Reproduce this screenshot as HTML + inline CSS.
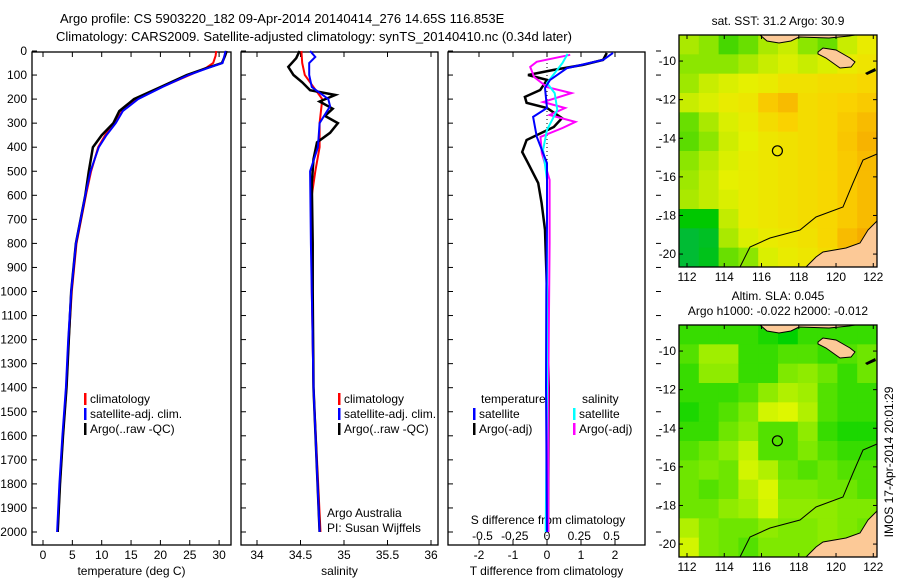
<!DOCTYPE html>
<html><head><meta charset="utf-8"><style>
body{margin:0;background:#fff;}
svg{display:block;font-family:"Liberation Sans",sans-serif;font-size:12px;}
</style></head><body>
<svg id="fig" width="900" height="580" viewBox="0 0 900 580" xmlns="http://www.w3.org/2000/svg">
<text x="60" y="23" font-size="13">Argo profile: CS 5903220_182 09-Apr-2014 20140414_276 14.65S 116.853E</text>
<text x="56" y="41" font-size="13">Climatology: CARS2009. Satellite-adjusted climatology: synTS_20140410.nc (0.34d later)</text>
<g id="g1"></g>
<g id="g2"></g>
<g id="g3"></g>
<g id="m1"></g>
<g id="m2"></g>
<text transform="translate(893,462) rotate(-90)" text-anchor="middle">IMOS 17-Apr-2014 20:01:29</text>
</svg>
<script>
// ---- profile data (depth m, value) ----
const tDepth=[0,20,50,70,100,150,200,250,300,350,400,500,600,800,1000,1200,1400,1600,1800,2000];
const tArgo=[31.3,31,30.5,28,24.5,20,15.5,13,12,10,8.5,7.8,7.2,5.6,4.8,4.4,4.0,3.4,2.9,2.5];
const tClim=[29.5,29.4,29,27.8,25,20.2,16,13.5,12.2,10.6,9.4,8.2,7.3,5.7,4.9,4.4,4.0,3.4,2.9,2.5];
const tSat=[31.1,30.9,30.6,28.2,24.8,20.3,16.2,13.6,12.4,10.8,9.5,8.1,7.2,5.6,4.8,4.3,3.9,3.3,2.8,2.4];
const sArgoDepth=[0,30,66,100,130,163,183,210,240,270,300,340,380,450,550,800,1000,1400,2000];
const sArgo=[34.49,34.45,34.36,34.42,34.52,34.61,34.9,34.72,34.87,34.78,34.93,34.84,34.69,34.65,34.63,34.64,34.64,34.65,34.72];
const sClimDepth=[0,50,100,150,200,300,400,500,600,800,1000,1400,2000];
const sClim=[34.51,34.52,34.55,34.65,34.75,34.72,34.72,34.67,34.63,34.63,34.63,34.65,34.73];
const sSatDepth=[0,25,50,100,150,200,230,300,400,500,800,1000,1400,2000];
const sSat=[34.61,34.67,34.6,34.6,34.63,34.82,34.84,34.72,34.7,34.61,34.62,34.63,34.65,34.72];
const dTSatDepth=[8,37,71,120,154,237,274,357,466,700,1000,1400,2000];
const dTSat=[1.94,1.65,0.59,0.09,-0.06,0,-0.41,-0.3,0,0,-0.02,-0.03,0];
const dTArgoDepth=[8,37,58,79,100,120,162,191,216,237,279,316,370,420,466,549,632,744,1000,1400,2000];
const dTArgo=[1.76,1.65,1.06,0.18,-0.56,0,-0.2,-0.65,-0.6,0,0.44,0.2,-0.6,-0.73,-0.56,-0.26,-0.16,-0.06,0,0.05,0.03];
const dSSatDepth=[12,50,133,175,245,328,411,536,800,1400,2000];
const dSSat=[0.16,0.12,0,0.06,0.08,0,-0.03,0,0,0,-0.01];
const dSArgoDepth=[16,45,66,108,150,175,212,237,266,295,320,357,424,536,800,1400,2000];
const dSArgo=[0.18,-0.08,-0.13,-0.1,0,0.19,-0.03,0.14,0.02,0.22,0.12,-0.05,-0.04,0.02,0.02,0.01,0.01];
const depthTicks=[0,100,200,300,400,500,600,700,800,900,1000,1100,1200,1300,1400,1500,1600,1700,1800,1900,2000];
const tTicks=[0,5,10,15,20,25,30];
const sTicks=[34,34.5,35,35.5,36];
const dTTicks=[-2,-1,0,1,2];
const dSTicks=[-0.5,-0.25,0,0.25,0.5];
const dSTickLabels=["-0.5","-0.25","0","0.25","0.5"];
// ---- map grids (rows north->south, cols west->east), normalized colour value ----
const sstGrid=[
[.50,.45,.35,.40,.50,.55,.45,.40,.55,.62],
[.45,.45,.45,.50,.55,.58,.55,.58,.62,.65],
[.48,.55,.58,.60,.62,.66,.66,.68,.68,.70],
[.55,.58,.62,.64,.74,.78,.68,.70,.72,.74],
[.40,.50,.58,.62,.68,.72,.68,.70,.74,.78],
[.38,.45,.56,.60,.64,.66,.68,.70,.75,.80],
[.45,.52,.58,.62,.64,.66,.68,.70,.74,.78],
[.48,.54,.60,.62,.64,.66,.68,.70,.74,.78],
[.50,.54,.58,.62,.64,.66,.68,.70,.74,.78],
[.25,.25,.54,.62,.64,.66,.68,.70,.74,.78],
[.15,.18,.50,.58,.62,.64,.66,.70,.78,.82],
[.15,.20,.40,.45,.58,.62,.64,.68,.74,.78]];
const slaGrid=[
[.40,.40,.40,.40,.35,.30,.40,.40,.40,.40],
[.45,.65,.65,.40,.40,.45,.45,.40,.45,.50],
[.40,.60,.60,.40,.40,.55,.60,.50,.40,.50],
[.40,.40,.40,.45,.60,.70,.65,.45,.40,.40],
[.35,.40,.45,.55,.80,.88,.70,.45,.40,.40],
[.40,.40,.50,.60,.45,.45,.60,.40,.35,.35],
[.45,.50,.60,.75,.45,.45,.55,.45,.40,.40],
[.50,.55,.50,.80,.70,.50,.45,.50,.45,.45],
[.50,.45,.50,.70,.85,.55,.55,.50,.50,.45],
[.50,.50,.60,.65,.80,.60,.60,.60,.55,.55],
[.70,.55,.50,.50,.60,.55,.55,.60,.55,.50],
[.80,.55,.50,.45,.55,.55,.55,.60,.60,.60]];
const latTicks=[-10,-12,-14,-16,-18,-20];
const lonTicks=[112,114,116,118,120,122];
const argoLon=116.853, argoLat=-14.65;

const NS="http://www.w3.org/2000/svg";
function mk(parent,tag,attrs,txt){const e=document.createElementNS(NS,tag);for(const k in attrs)e.setAttribute(k,attrs[k]);if(txt!==undefined)e.textContent=txt;parent.appendChild(e);return e;}
const yD=d=>51+d*0.2405;
const PT=55, PB=545;

function frame(g,x0,x1,xt,xs,xlab,labels){
  const r=mk(g,'rect',{x:x0,y:PT-3,width:x1-x0,height:PB-PT+3,fill:'none',stroke:'#000','stroke-width':1.3});
  
  
  xt.forEach((v,i)=>{const x=xs(v);
    mk(g,'line',{x1:x,x2:x,y1:PB,y2:PB-5,stroke:'#000'});
    mk(g,'line',{x1:x,x2:x,y1:PT-3,y2:PT+2,stroke:'#000'});
    const t=mk(g,'text',{x:x,y:559,'text-anchor':'middle'},labels[i]);
    
    
  });
  depthTicks.forEach(d=>{mk(g,'line',{x1:x0,x2:x0+5,y1:yD(d),y2:yD(d),stroke:'#000'});});
  const xl=mk(g,'text',{x:(x0+x1)/2,y:575,'text-anchor':'middle'},xlab);
  
  
}
function line(g,depths,vals,xs,color,w,name){
  const pts=depths.map((d,i)=>xs(vals[i]).toFixed(1)+','+yD(d).toFixed(1)).join(' ');
  const p=mk(g,'polyline',{points:pts,fill:'none',stroke:color,'stroke-width':w||2});
  
  
}
function legend(g,x,y,color,label){
  mk(g,'rect',{x:x,y:y-10,width:2.5,height:12,fill:color});
  const t=mk(g,'text',{x:x+6,y:y},label);
  
  
}
// panel 1
const g1=document.getElementById('g1');
const xT=v=>43+v*5.87;
frame(g1,32,231,tTicks,xT,'temperature (deg C)',tTicks.map(String));
depthTicks.forEach(d=>{const t=mk(g1,'text',{x:27,y:yD(d)+4,'text-anchor':'end'},String(d));
  
  });
line(g1,tDepth,tClim,xT,'#f00',2,'climatology-temperature-line');
line(g1,tDepth,tArgo,xT,'#000',2.5,'argo-temperature-line');
line(g1,tDepth,tSat,xT,'#00f',2,'satellite-temperature-line');
legend(g1,84,403,'#f00','climatology');legend(g1,84,418,'#00f','satellite-adj. clim.');legend(g1,84,433,'#000','Argo(..raw -QC)');
// panel 2
const g2=document.getElementById('g2');
const xS=v=>257+(v-34)*87;
frame(g2,241,438,sTicks,xS,'salinity',sTicks.map(String));
line(g2,sClimDepth,sClim,xS,'#f00',2,'climatology-salinity-line');
line(g2,sArgoDepth,sArgo,xS,'#000',2.5,'argo-salinity-line');
line(g2,sSatDepth,sSat,xS,'#00f',2,'satellite-salinity-line');
legend(g2,338,403,'#f00','climatology');legend(g2,338,418,'#00f','satellite-adj. clim.');legend(g2,338,433,'#000','Argo(..raw -QC)');
let t=mk(g2,'text',{x:327,y:517},'Argo Australia');
t=mk(g2,'text',{x:327,y:532},'PI: Susan Wijffels');
// panel 3
const g3=document.getElementById('g3');
const xDT=v=>547+v*34, xDS=v=>547+v*129;
frame(g3,448,645,dTTicks,xDT,'T difference from climatology',dTTicks.map(String));
dSTicks.forEach((v,i)=>{const tt=mk(g3,'text',{x:xDS(v),y:540,'text-anchor':'middle'},dSTickLabels[i]);
  
  });
t=mk(g3,'text',{x:548,y:524,'text-anchor':'middle'},'S difference from climatology');
mk(g3,'line',{x1:547,x2:547,y1:PT,y2:PB,stroke:'#000','stroke-dasharray':'1,3'});
depthTicks.forEach(d=>{mk(g3,'line',{x1:656,x2:661,y1:yD(d),y2:yD(d),stroke:'#000'});});
line(g3,dTArgoDepth,dTArgo,xDT,'#000',2.5,'argo-t-difference-line');
line(g3,dSArgoDepth,dSArgo,xDS,'#f0f',2,'argo-s-difference-line');
line(g3,dSSatDepth,dSSat,xDS,'#0ff',2,'satellite-s-difference-line');
line(g3,dTSatDepth,dTSat,xDT,'#00f',2,'satellite-t-difference-line');
t=mk(g3,'text',{x:481,y:403},'temperature');
t=mk(g3,'text',{x:582,y:403},'salinity');
legend(g3,473,418,'#00f','satellite');legend(g3,473,433,'#000','Argo(-adj)');
legend(g3,573,418,'#0ff','satellite');legend(g3,573,433,'#f0f','Argo(-adj)');

// maps
function interp(stops,v){for(let i=1;i<stops.length;i++){if(v<=stops[i][0]){const a=stops[i-1],b=stops[i],f=(v-a[0])/(b[0]-a[0]);return 'rgb('+a[1].map((c,j)=>Math.round(c+(b[1][j]-c)*f)).join(',')+')';}}return 'rgb('+stops[stops.length-1][1].join(',')+')';}
function cmapSST(v){return interp([[0,[0,170,130]],[.25,[0,200,0]],[.45,[140,230,0]],[.6,[230,240,0]],[.72,[250,210,0]],[.85,[245,160,0]],[1,[210,100,0]]],v);}
function cmapSLA(v){return interp([[0,[0,180,0]],[.3,[0,210,0]],[.5,[110,230,0]],[.8,[210,245,0]],[1,[240,250,0]]],v);}
const MX0=679,MW=198,MH=232,LON0=111.57,LON1=122.2,LAT0=-8.65,LAT1=-20.67;
function drawMap(id,oy,grid,cmap,titles){
  const g=document.getElementById(id);
  const lx=lon=>MX0+(lon-LON0)/(LON1-LON0)*MW;
  const ly=lat=>oy+(lat-LAT0)/(LAT1-LAT0)*MH;
  const rows=grid.length,cols=grid[0].length,cw=MW/cols,ch=MH/rows;
  grid.forEach((row,r)=>row.forEach((v,c)=>{
    const cell=mk(g,'rect',{x:MX0+c*cw,y:oy+r*ch,width:cw+0.5,height:ch+0.5,fill:cmap(v)});
    
    
  }));
  const L=(pts)=>pts.map(p=>(MX0+p[0])+','+(oy+p[1])).join(' ');
  const land='#fcc997';
  mk(g,'polygon',{points:L([[198,186],[189,195],[181,208],[167,213],[144,217],[137,222],[127,232],[198,232]]),fill:land,stroke:'#000'});
  mk(g,'polygon',{points:L([[139,17],[144,13],[157,15],[171,23],[176,27],[172,32],[161,33],[147,23],[139,19]]),fill:land,stroke:'#000'});
  mk(g,'polygon',{points:L([[81,0],[88,6],[100,8],[112,6],[120,2],[150,3],[170,1],[176,0]]),fill:land,stroke:'#000'});
  mk(g,'polygon',{points:L([[186,38],[196,33],[197,36],[188,40]]),fill:'#000'});
  mk(g,'polyline',{points:L([[198,119],[184,125],[174,148],[164,172],[137,182],[121,195],[91,203],[71,212],[61,232]]),fill:'none',stroke:'#000','stroke-width':1});
  const c=mk(g,'circle',{cx:lx(argoLon),cy:ly(argoLat),r:5,fill:'none',stroke:'#000','stroke-width':1.2});
  
  
  mk(g,'rect',{x:MX0,y:oy,width:MW,height:MH,fill:'none',stroke:'#000','stroke-width':1.3});
  latTicks.forEach(v=>{const y=ly(v);
    mk(g,'line',{x1:MX0,x2:MX0+4,y1:y,y2:y,stroke:'#000'});mk(g,'line',{x1:MX0+MW,x2:MX0+MW-4,y1:y,y2:y,stroke:'#000'});
    const tt=mk(g,'text',{x:MX0-3,y:y+4,'text-anchor':'end'},String(v));
    
    });
  lonTicks.forEach(v=>{const x=lx(v);
    mk(g,'line',{x1:x,x2:x,y1:oy,y2:oy+4,stroke:'#000'});mk(g,'line',{x1:x,x2:x,y1:oy+MH,y2:oy+MH-4,stroke:'#000'});
    const tt=mk(g,'text',{x:x,y:oy+MH+14,'text-anchor':'middle'},String(v));
    
    });
  titles.forEach((s,i)=>{const tt=mk(g,'text',{x:778,y:oy-(titles.length-i)*15+5,'text-anchor':'middle'},s);
    
    });
}
drawMap('m1',35,sstGrid,cmapSST,['sat. SST: 31.2 Argo: 30.9']);
drawMap('m2',325,slaGrid,cmapSLA,['Altim. SLA: 0.045','Argo h1000: -0.022 h2000: -0.012']);
</script>
</body></html>
